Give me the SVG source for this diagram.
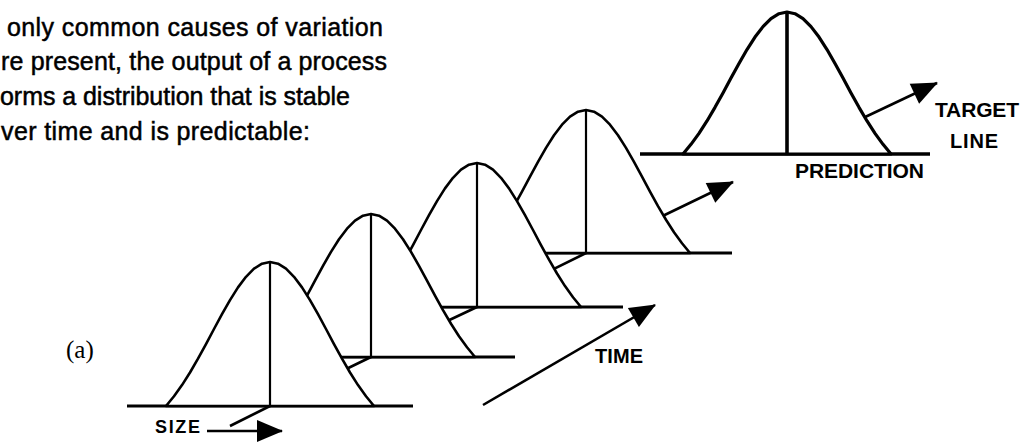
<svg xmlns="http://www.w3.org/2000/svg" xmlns:xlink="http://www.w3.org/1999/xlink" width="1025" height="442" viewBox="0 0 1025 442">
<style>
.bg{fill:#fff}
.bell{fill:#fff;stroke:#000;stroke-width:2.6;stroke-linejoin:round}
.base{stroke:#000;stroke-width:3;fill:none}
.vert{stroke:#000;stroke-width:2.2;fill:none}
.ax{stroke:#000;stroke-width:2.6;fill:none;stroke-linejoin:round}
.para{font-family:"Liberation Sans",Arial,sans-serif;font-size:25px;fill:#000;stroke:#000;stroke-width:0.5}
.lbl{font-family:"Liberation Sans",Arial,sans-serif;font-weight:bold;fill:#000}
.serif{font-family:"Liberation Serif","Times New Roman",serif;font-size:25px;fill:#000}
</style>
<defs>
<path id="bellShape" d="M-104,0 L-96,-9.8 L-88,-20.9 L-80,-33.5 L-72,-47.3 L-64,-61.9 L-56,-77 L-48,-91.8 L-40,-105.9 L-32,-118.6 L-24,-129.2 L-16,-137.3 L-8,-142.3 L0,-144 L8,-142.3 L16,-137.3 L24,-129.2 L32,-118.6 L40,-105.9 L48,-91.8 L56,-77 L64,-61.9 L72,-47.3 L80,-33.5 L88,-20.9 L96,-9.8 L104,0 Z"/>
<marker id="head" viewBox="-27 -13 29 26" refX="0" refY="0" markerWidth="29" markerHeight="26" markerUnits="userSpaceOnUse" orient="auto">
<path d="M1,0 L-25,-11 L-25,11 Z" fill="#000"/>
</marker>
</defs>
<rect class="bg" x="0" y="0" width="1025" height="442"/>

<g id="intro-text">
<text class="para" x="7" y="36" textLength="376">only common causes of variation</text>
<text class="para" x="1" y="70" textLength="386">re present, the output of a process</text>
<text class="para" x="0" y="104.5" textLength="350">orms a distribution that is stable</text>
<text class="para" x="1" y="140" textLength="309">ver time and is predictable:</text>
</g>
<text id="label-a" class="serif" x="66" y="358">(a)</text>

<g id="connectors">
<polyline id="time-axis" class="ax" points="230,426 270,406 371,357 477,307 586,253 733,182" marker-end="url(#head)"/>
<line id="target-arrow" class="ax" x1="787" y1="154" x2="937" y2="83" marker-end="url(#head)"/>
<line id="time-arrow" class="ax" x1="483" y1="405" x2="655" y2="305" marker-end="url(#head)"/>
<line id="size-arrow" class="ax" x1="207" y1="431" x2="282" y2="431" marker-end="url(#head)"/>
</g>

<g id="dist5">
<line class="base" x1="640" y1="154" x2="930" y2="154" style="stroke-width:3.6"/>
<use xlink:href="#bellShape" href="#bellShape" class="bell" transform="translate(787,154) scale(1,0.986)" style="stroke-width:3.2"/>
<line class="vert" x1="787" y1="12" x2="787" y2="154" style="stroke-width:3.6"/>
</g>
<g id="dist4">
<line class="base" x1="443" y1="253" x2="732" y2="253"/>
<use xlink:href="#bellShape" href="#bellShape" class="bell" transform="translate(586,253) scale(1,0.993)"/>
<line class="vert" x1="586" y1="110" x2="586" y2="253"/>
</g>
<g id="dist3">
<line class="base" x1="334" y1="307" x2="623" y2="307"/>
<use xlink:href="#bellShape" href="#bellShape" class="bell" transform="translate(477,307)"/>
<line class="vert" x1="477" y1="163" x2="477" y2="307"/>
</g>
<g id="dist2">
<line class="base" x1="228" y1="357" x2="515" y2="357"/>
<use xlink:href="#bellShape" href="#bellShape" class="bell" transform="translate(371,357) scale(1,0.993)"/>
<line class="vert" x1="371" y1="214" x2="371" y2="357"/>
</g>
<g id="dist1">
<line class="base" x1="127" y1="406" x2="413" y2="406"/>
<use xlink:href="#bellShape" href="#bellShape" class="bell" transform="translate(270,406)"/>
<line class="vert" x1="270" y1="262" x2="270" y2="406"/>
</g>

<g id="labels">
<text class="lbl" x="155" y="433" font-size="18" textLength="45">SIZE</text>
<text class="lbl" x="595" y="363" font-size="20" textLength="48">TIME</text>
<text class="lbl" x="795" y="178" font-size="21" textLength="129">PREDICTION</text>
<text class="lbl" x="935" y="117" font-size="21" textLength="84">TARGET</text>
<text class="lbl" x="950" y="148" font-size="20" textLength="48">LINE</text>
</g>
</svg>
